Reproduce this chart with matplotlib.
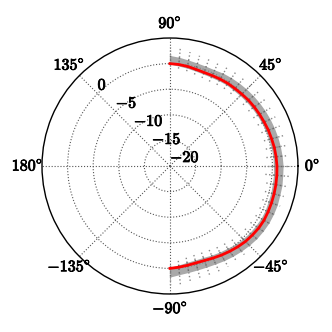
import numpy as np
import matplotlib
matplotlib.use("Agg")
import matplotlib.pyplot as plt
import matplotlib.patheffects as pe

plt.rcParams['mathtext.fontset'] = 'cm'
plt.rcParams['font.family'] = ['DejaVu Serif']

# angles (deg) of the measured samples
angles = [90, 85, 80, 75, 70, 65, 60, 55, 50, 45, 40, 35, 30, 25, 20, 15, 10, 5, 0,
          -5, -10, -15, -20, -25, -30, -35, -40, -45, -50, -55, -60, -65, -70, -75, -80, -85, -90]
# mean pattern (dB)
mean_db = [0.0, -0.1, -0.25, -0.45, -0.55, -0.5, -0.4, -0.3, -0.25, -0.15, 0.0, 0.1, 0.2, 0.3,
           0.45, 0.55, 0.7, 0.8, 0.9, 0.95, 1.0, 1.05, 1.1, 1.15, 1.2, 1.15, 1.0, 0.85, 0.6,
           0.35, 0.1, -0.15, -0.35, -0.4, -0.3, -0.15, 0.0]
# spread of the individual measurements (dB)
spread_lo = [-0.4, -0.9, -1.2, -1.5, -1.7, -1.8, -1.7, -1.6, -1.6, -1.5, -1.4, -1.3, -1.2, -1.1,
             -1.0, -1.0, -1.0, -1.1, -1.6, -1.3, -0.9, -0.8, -0.8, -0.7, -0.7, -0.8, -0.9, -1.0,
             -1.2, -1.5, -1.7, -1.9, -2.0, -2.0, -1.8, -1.4, -0.6]
spread_hi = [3.3, 3.0, 2.6, 2.3, 2.2, 2.3, 2.5, 2.6, 2.7, 2.6, 2.5, 2.6, 2.6, 2.7, 2.8, 2.9, 3.0,
             3.2, 3.4, 3.3, 3.2, 3.0, 2.9, 2.8, 2.8, 2.7, 2.7, 2.6, 2.6, 2.6, 2.7, 2.8, 2.9, 3.0,
             3.2, 3.4, 3.5]
core_lo = [-0.1, -0.4, -0.6, -0.8, -0.9, -0.9, -0.8, -0.7, -0.7, -0.6, -0.5, -0.4, -0.3, -0.2,
           -0.1, 0.0, 0.1, 0.2, 0.2, 0.3, 0.3, 0.4, 0.4, 0.5, 0.5, 0.4, 0.3, 0.1, -0.1, -0.4,
           -0.6, -0.8, -1.0, -1.0, -0.9, -0.6, -0.2]
core_hi = [1.6, 1.3, 1.0, 0.8, 0.7, 0.7, 0.9, 1.0, 1.1, 1.2, 1.3, 1.4, 1.5, 1.6, 1.7, 1.8, 1.9,
           2.0, 2.1, 2.1, 2.2, 2.2, 2.3, 2.3, 2.3, 2.2, 2.1, 1.9, 1.7, 1.5, 1.3, 1.1, 1.0, 1.0,
           1.1, 1.3, 1.7]

r_ticks = [-20, -15, -10, -5, 0]
r_labels = [r'$\mathbf{-20}$', r'$\mathbf{-15}$', r'$\mathbf{-10}$', r'$\mathbf{-5}$', r'$\mathbf{0}$']
t_ticks = [0, 45, 90, 135, 180, 225, 270, 315]
t_labels = [r'$\mathbf{0\!^\circ}$', r'$\mathbf{45\!^\circ}$', r'$\mathbf{90\!^\circ}$',
            r'$\mathbf{135\!^\circ}$', r'$\mathbf{180\!^\circ}$', r'$\mathbf{-135\!^\circ}$',
            r'$\mathbf{-90\!^\circ}$', r'$\mathbf{-45\!^\circ}$']

th = np.deg2rad(angles)

fig = plt.figure(figsize=(3.32, 3.32), dpi=100)
ax = fig.add_axes([0.1265, 0.1145, 0.771, 0.771], projection='polar')

# measurement spread
ax.vlines(th, spread_lo, spread_hi, colors='#8a8a8a', linestyles=':', lw=1.0, zorder=2)
ax.fill_between(th, core_lo, core_hi, color='#8c8c8c', alpha=0.75, lw=0, zorder=2)
ax.vlines(th, core_lo, core_hi, colors='#6a6a6a', linestyles=':', lw=1.0, zorder=2)
# mean
ax.plot(th, mean_db, color='red', lw=2, zorder=3)

ax.set_ylim(-20, 5)
ax.set_yticks(r_ticks)
ax.set_yticklabels(r_labels, fontsize=11.5)
ax.set_rlabel_position(135)
ax.set_thetagrids(t_ticks, t_labels, fontsize=11.5)
ax.tick_params(axis='x', pad=0)
ax.grid(True, color='#555555', linestyle=':', lw=0.8)
ax.spines['polar'].set_linewidth(1.0)

bold = [pe.withStroke(linewidth=0.6, foreground='black')]
for t in ax.get_xticklabels() + ax.get_yticklabels():
    t.set_path_effects(bold)

fig.savefig('out.png', dpi=100)
